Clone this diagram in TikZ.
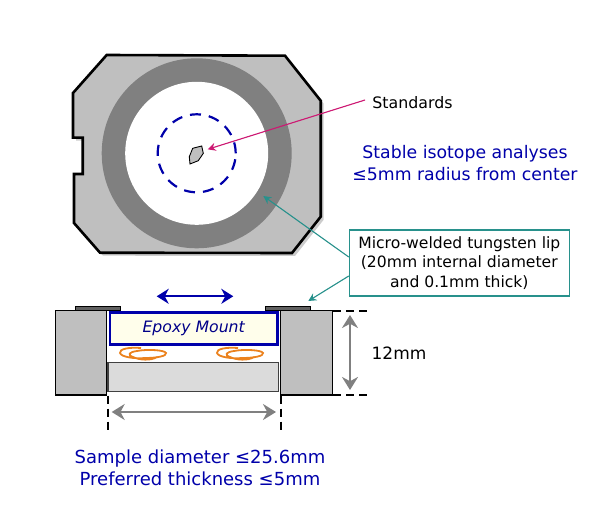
\documentclass[tikz,border=0pt]{standalone}
\usepackage{fontspec}
\setmainfont{DejaVu Sans}
\usepackage{xcolor}
\usepackage{tikz}
\usetikzlibrary{positioning,arrows.meta,shadows}
\definecolor{holderblue}{RGB}{0,0,170}
\definecolor{notegreen}{RGB}{40,145,140}
\definecolor{notepink}{RGB}{205,25,115}
\definecolor{swirlorange}{RGB}{235,130,30}
\tikzset{
  swirl/.pic={
    \draw[swirlorange, line width=1.8pt] (-2,-6) .. controls (-14,-7) and (-24,-5) .. (-23,-1) .. controls (-22,3) and (-8,5) .. (2,4) .. controls (14,4) and (24,2) .. (23,-1) .. controls (22,-4) and (4,-5) .. (-6,-3) .. controls (-14,-2) and (-16,1) .. (-10,3) .. controls (-4,6) and (8,7) .. (14,3);
  }
}
\begin{document}
\begin{tikzpicture}[
  x=1pt, y=-1pt,
  block/.style={draw=black, fill=gray!50!white, line width=1.2pt},
  lip/.style={draw=black, fill=gray!75!black, line width=1pt},
  dimline/.style={line width=2pt, dash pattern=on 8pt off 5pt},
  greyarrow/.style={{Stealth[length=13pt,width=16pt]}-{Stealth[length=13pt,width=16pt]}, draw=gray, fill=gray, line width=2pt},
  bluetext/.style={text=holderblue, align=center},
  note/.style={-{Stealth[length=8pt,width=8pt]}, line width=1.1pt}
]
\useasboundingbox (0,0) rectangle (600,505);

% top view of the holder
\draw[line width=2.6pt, fill=gray!50!white, drop shadow={shadow xshift=3pt, shadow yshift=-3pt, fill=gray!80}]
  (106.7,55) -- (285,55.7) -- (320.7,100.7) -- (320.7,216.7) -- (292,253) -- (100,252.7)
  -- (74,223) -- (74,174) -- (82.7,174) -- (82.7,137.7) -- (73,137.7) -- (73,93) -- cycle;
\node[circle, fill=gray, minimum size=190pt, inner sep=0pt] (ring) at (196.7,153.3) {};
\node[circle, fill=white, minimum size=143pt, inner sep=0pt] (bore) at (196.7,153.3) {};
\node[circle, draw=holderblue, line width=2.2pt, dash pattern=on 11pt off 8pt, minimum size=78pt, inner sep=0pt] (zone) at (196.7,153.3) {};
\draw[fill=gray!50!white, line width=0.9pt] (192.7,148.3) -- (201.7,146) -- (203.3,153.3) -- (198.3,160.7) -- (190,164) -- (189.3,156.7) -- cycle;

% labels
\node (standards) at (412.5,102.5) {\fontsize{15.8}{18}\selectfont Standards};
\node[bluetext, font=\fontsize{17.3}{22}\selectfont] (analyses) at (465,163) {Stable isotope analyses\\≤5mm radius from center};
\node[draw=notegreen, line width=1.1pt, minimum width=220pt, minimum height=66pt, inner sep=2pt, align=center, font=\fontsize{15.6}{19.5}\selectfont] (lipbox) at (459.3,263) {Micro-welded tungsten lip\\(20mm internal diameter\\and 0.1mm thick)};

% cross section
\node[block, minimum width=51.4pt, minimum height=84.3pt, inner sep=0pt] (leftwall) at (81,352.8) {};
\node[block, minimum width=52pt, minimum height=84.3pt, inner sep=0pt] (rightwall) at (306.7,352.8) {};
\node[lip, minimum width=44.7pt, minimum height=4pt, inner sep=0pt] (leftlip) at (97.7,308.7) {};
\node[lip, minimum width=45.4pt, minimum height=4pt, inner sep=0pt] (rightlip) at (288,308.7) {};
\node[draw=black!75, fill=gray!28, line width=1.2pt, minimum width=170.7pt, minimum height=28.6pt, inner sep=0pt] (sample) at (193.3,377) {};
\node[draw=holderblue, fill=yellow!8, line width=2.6pt, minimum width=167.3pt, minimum height=32pt, inner sep=0pt, text=holderblue!80!black, font=\fontsize{15.7}{18}\selectfont\itshape] (epoxy) at (193.7,328.3) {Epoxy Mount};
\pic at (143,354) {swirl};
\pic at (240,354) {swirl};

% dimension marks
\coordinate (blueleft) at (156.7,296.3);
\coordinate (blueright) at (233.3,296.3);
\coordinate (diamleft) at (111.7,412);
\coordinate (diamright) at (276,412);
\coordinate (hightop) at (350,315);
\coordinate (highbot) at (350,390);
\coordinate (tickleft) at (108,430);
\coordinate (tickright) at (280.5,430);
\coordinate (ticktop) at (371,311);
\coordinate (tickbot) at (369,394.5);
\draw[{Stealth[length=12pt,width=15pt]}-{Stealth[length=12pt,width=15pt]}, holderblue, line width=2.2pt] (blueleft) -- (blueright);
\draw[greyarrow] (diamleft) -- (diamright);
\draw[greyarrow] (hightop) -- (highbot);
\draw[dimline] (tickleft |- leftwall.south) -- (tickleft);
\draw[dimline] (tickright |- rightwall.south) -- (tickright);
\draw[dimline] (rightwall.east |- ticktop) -- (ticktop);
\draw[dimline] (rightwall.east |- tickbot) -- (tickbot);
\node[font=\fontsize{17}{19}\selectfont] (height) at (399,353) {12mm};
\node[bluetext, font=\fontsize{18}{22}\selectfont] (diameter) at (200,468) {Sample diameter ≤25.6mm\\Preferred thickness ≤5mm};

% callouts
\coordinate (stdtip) at (207.7,149.3);
\coordinate (stdtail) at (365,100);
\coordinate (liptip) at (263.3,196);
\coordinate (liptail) at (lipbox.west);
\coordinate (edgetip) at (308.3,301);
\draw[note, draw=notepink, fill=notepink] (stdtail) -- (stdtip);
\draw[note, draw=notegreen, fill=notegreen] ([yshift=6pt]liptail) -- (liptip);
\draw[note, draw=notegreen, fill=notegreen] ([yshift=-13pt]liptail) -- (edgetip);
\end{tikzpicture}
\end{document}
